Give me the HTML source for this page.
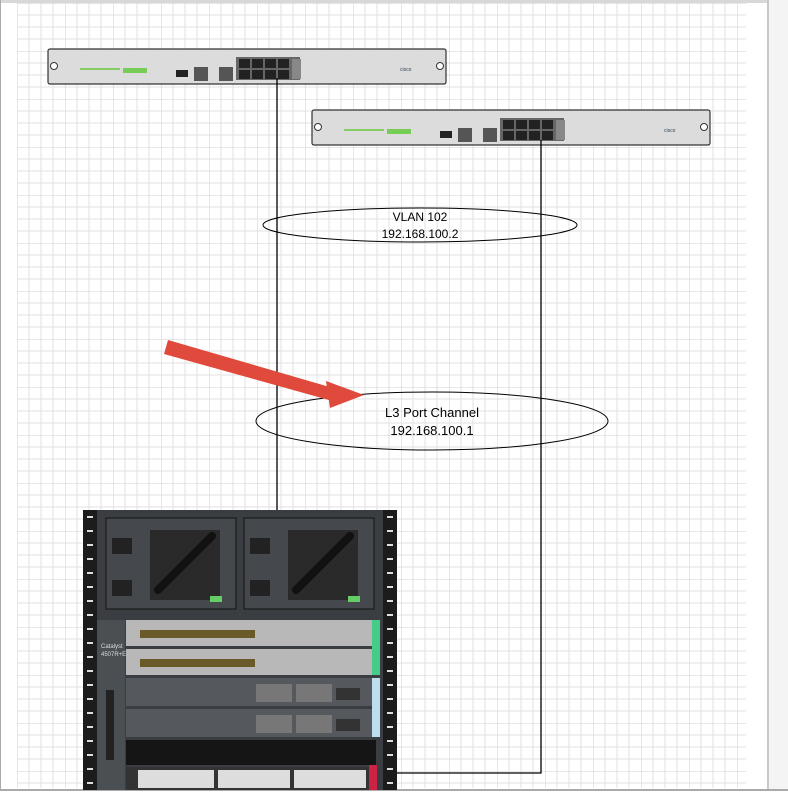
<!DOCTYPE html>
<html><head><meta charset="utf-8"><style>
html,body{margin:0;padding:0;background:#fff;width:788px;height:798px;overflow:hidden}
svg{display:block}
text{font-family:"Liberation Sans",sans-serif}
</style></head><body>
<svg width="788" height="798" viewBox="0 0 788 798" xmlns="http://www.w3.org/2000/svg">
<defs>
<pattern id="g" x="17" y="3" width="48" height="48" patternUnits="userSpaceOnUse">
<path d="M12 0V48M24 0V48M36 0V48M0 12H48M0 24H48M0 36H48" stroke="#e2e2e2" stroke-width="1"/>
<path d="M0 0V48M0 0H48" stroke="#cfcfcf" stroke-width="1"/>
</pattern>
<g id="dev">
<rect x="0" y="0" width="398" height="35" rx="2" fill="#dcdcdc" stroke="#333" stroke-width="1.2"/>
<circle cx="6" cy="17" r="3.5" fill="#fff" stroke="#333"/>
<circle cx="392" cy="17" r="3.5" fill="#fff" stroke="#333"/>
<rect x="32" y="19" width="40" height="2" fill="#8c6"/>
<rect x="75" y="19" width="24" height="5" fill="#7c5"/>
<rect x="128" y="21" width="12" height="7" fill="#222"/>
<rect x="146" y="18" width="14" height="14" fill="#555"/>
<rect x="171" y="18" width="14" height="14" fill="#555"/>
<rect x="188" y="8" width="64" height="23" fill="#666"/>
<g fill="#222"><rect x="191" y="10" width="11" height="9"/><rect x="204" y="10" width="11" height="9"/><rect x="217" y="10" width="11" height="9"/><rect x="230" y="10" width="11" height="9"/>
<rect x="191" y="21" width="11" height="9"/><rect x="204" y="21" width="11" height="9"/><rect x="217" y="21" width="11" height="9"/><rect x="230" y="21" width="11" height="9"/></g>
<rect x="244" y="10" width="9" height="20" fill="#888"/>
<text x="352" y="22" font-size="5" fill="#345">cisco</text>
</g>
</defs>
<rect x="0" y="0" width="788" height="798" fill="#fff"/>
<rect x="17" y="3" width="729" height="785" fill="url(#g)"/>
<rect x="0" y="0" width="768" height="3" fill="#d8d8d8"/>
<rect x="0" y="0" width="1" height="790" fill="#aaa"/>
<rect x="767" y="0" width="2" height="790" fill="#c8c8c8"/>
<rect x="769" y="0" width="19" height="790" fill="#f4f4f4"/>
<rect x="0" y="789" width="788" height="2" fill="#aaa"/>
<use href="#dev" x="48" y="49"/>
<use href="#dev" x="312" y="110"/>
<g stroke="#000" stroke-width="1.3" fill="none">
<path d="M277 78V790"/>
<path d="M541 140V773H392"/>
</g>
<ellipse cx="420" cy="225" rx="157" ry="17" fill="none" stroke="#000"/>
<text x="420" y="221" font-size="12" text-anchor="middle">VLAN 102</text>
<text x="420" y="238" font-size="12" text-anchor="middle">192.168.100.2</text>
<ellipse cx="432" cy="421" rx="176" ry="29" fill="none" stroke="#000"/>
<text x="432" y="417" font-size="13" text-anchor="middle">L3 Port Channel</text>
<text x="432" y="435" font-size="13" text-anchor="middle">192.168.100.1</text>
<g fill="#e04a3c">
<path d="M168 340L340 390L336 402L164 354Z"/>
<path d="M330 384L368 398L334 411Z" transform="translate(-4,-3)"/>
</g>
<!-- rack -->
<rect x="83" y="510" width="314" height="280" fill="#3a3e42"/>
<rect x="83" y="510" width="14" height="280" fill="#1c1c1c"/>
<rect x="383" y="510" width="14" height="280" fill="#1c1c1c"/>
<g fill="#ddd">
<rect x="87" y="516" width="6" height="2"/><rect x="87" y="530" width="6" height="2"/><rect x="87" y="544" width="6" height="2"/><rect x="87" y="558" width="6" height="2"/><rect x="87" y="572" width="6" height="2"/><rect x="87" y="586" width="6" height="2"/><rect x="87" y="600" width="6" height="2"/><rect x="87" y="614" width="6" height="2"/><rect x="87" y="628" width="6" height="2"/><rect x="87" y="642" width="6" height="2"/><rect x="87" y="656" width="6" height="2"/><rect x="87" y="670" width="6" height="2"/><rect x="87" y="684" width="6" height="2"/><rect x="87" y="698" width="6" height="2"/><rect x="87" y="712" width="6" height="2"/><rect x="87" y="726" width="6" height="2"/><rect x="87" y="740" width="6" height="2"/><rect x="87" y="754" width="6" height="2"/><rect x="87" y="768" width="6" height="2"/><rect x="87" y="782" width="6" height="2"/>
<rect x="387" y="516" width="6" height="2"/><rect x="387" y="530" width="6" height="2"/><rect x="387" y="544" width="6" height="2"/><rect x="387" y="558" width="6" height="2"/><rect x="387" y="572" width="6" height="2"/><rect x="387" y="586" width="6" height="2"/><rect x="387" y="600" width="6" height="2"/><rect x="387" y="614" width="6" height="2"/><rect x="387" y="628" width="6" height="2"/><rect x="387" y="642" width="6" height="2"/><rect x="387" y="656" width="6" height="2"/><rect x="387" y="670" width="6" height="2"/><rect x="387" y="684" width="6" height="2"/><rect x="387" y="698" width="6" height="2"/><rect x="387" y="712" width="6" height="2"/><rect x="387" y="726" width="6" height="2"/><rect x="387" y="740" width="6" height="2"/><rect x="387" y="754" width="6" height="2"/><rect x="387" y="768" width="6" height="2"/><rect x="387" y="782" width="6" height="2"/>
</g>
<rect x="106" y="518" width="130" height="91" fill="#45494d" stroke="#111"/>
<rect x="244" y="518" width="130" height="91" fill="#45494d" stroke="#111"/>
<rect x="150" y="530" width="70" height="70" fill="#2a2a2a"/>
<rect x="288" y="530" width="70" height="70" fill="#2a2a2a"/>
<path d="M158 590L212 536M296 590L350 536" stroke="#111" stroke-width="8" stroke-linecap="round"/>
<rect x="112" y="538" width="20" height="16" fill="#222"/><rect x="112" y="580" width="20" height="16" fill="#222"/>
<rect x="250" y="538" width="20" height="16" fill="#222"/><rect x="250" y="580" width="20" height="16" fill="#222"/>
<rect x="210" y="596" width="12" height="6" fill="#6c6"/><rect x="348" y="596" width="12" height="6" fill="#6c6"/>
<rect x="97" y="620" width="28" height="170" fill="#4a4f54"/>
<text x="101" y="648" font-size="6" fill="#ddd">Catalyst</text>
<text x="101" y="656" font-size="6" fill="#ddd">4507R+E</text>
<rect x="106" y="690" width="8" height="70" fill="#222"/>
<rect x="126" y="620" width="250" height="26" fill="#b8b8b8"/>
<rect x="126" y="649" width="250" height="26" fill="#b8b8b8"/>
<rect x="140" y="630" width="115" height="8" fill="#6a5a2a"/>
<rect x="140" y="659" width="115" height="8" fill="#6a5a2a"/>
<rect x="372" y="620" width="8" height="55" fill="#4c8"/>
<rect x="126" y="678" width="250" height="28" fill="#55595d"/>
<rect x="126" y="709" width="250" height="28" fill="#55595d"/>
<rect x="372" y="678" width="8" height="59" fill="#bde"/>
<rect x="256" y="684" width="36" height="18" fill="#777"/><rect x="296" y="684" width="36" height="18" fill="#777"/><rect x="336" y="688" width="24" height="12" fill="#333"/>
<rect x="256" y="715" width="36" height="18" fill="#777"/><rect x="296" y="715" width="36" height="18" fill="#777"/><rect x="336" y="719" width="24" height="12" fill="#333"/>
<rect x="126" y="740" width="250" height="25" fill="#151515"/>
<rect x="126" y="767" width="245" height="23" fill="#333"/>
<rect x="138" y="770" width="76" height="18" fill="#ddd"/><rect x="218" y="770" width="72" height="18" fill="#ddd"/><rect x="294" y="770" width="72" height="18" fill="#ddd"/>
<rect x="369" y="765" width="8" height="25" fill="#c24"/>
</svg>
</body></html>
